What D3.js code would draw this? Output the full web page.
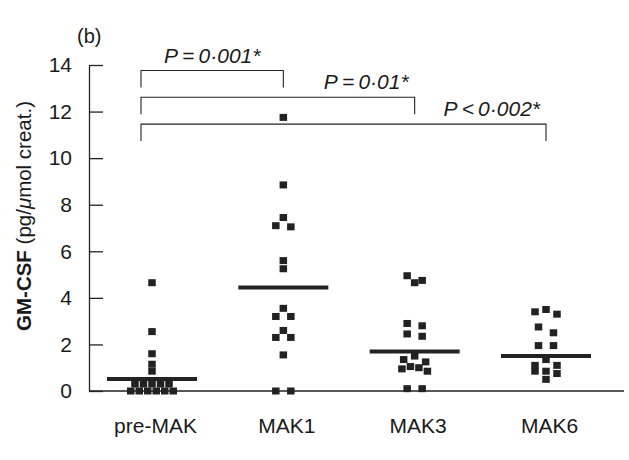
<!DOCTYPE html>
<html>
<head>
<meta charset="utf-8">
<script src="https://cdn.jsdelivr.net/npm/d3@7/dist/d3.min.js"></script>
<style>
  body { margin: 0; background: #fff; }
  text { font-family: "Liberation Sans", Arial, Helvetica, sans-serif; fill: #1a1a1a; }
</style>
</head>
<body>
<div id="chart"></div>
<script>
// values, GM-CSF in pg/umol creat.
const groups = ["pre-MAK", "MAK1", "MAK3", "MAK6"]
const preMAK = [4.65, 2.55, 1.6, 1.15, 0.85, 0.3, 0.3, 0.3, 0.3, 0.3, 0, 0, 0, 0, 0, 0]
const mak1 = [11.75, 8.85, 7.45, 7.1, 7.05, 5.6, 5.25, 3.55, 3.2, 3.2, 2.6, 2.3, 2.3, 1.55, 0, 0]
const mak3 = [4.95, 4.75, 4.65, 2.9, 2.8, 2.45, 2.35, 1.5, 1.35, 1.25, 1.05, 1.0, 0.95, 0.85, 0.1, 0.1]
const mak6 = [3.5, 3.4, 3.3, 2.75, 2.5, 1.95, 1.95, 1.35, 1.1, 1.1, 0.85, 0.85, 0.75, 0.5]
const means = [0.52, 4.45, 1.7, 1.5]
const yTicks = [0, 2, 4, 6, 8, 10, 12, 14]
const comparisons = [["pre-MAK", "MAK1"], ["pre-MAK", "MAK3"], ["pre-MAK", "MAK6"]]
const pLabels = ["P\u2009=\u20090·001*", "P\u2009=\u20090·01*", "P\u2009<\u20090·002*"]

const seriesValues = [preMAK, mak1, mak3, mak6]

// 1. dimensions
let dimensions = {
  width: 629,
  height: 460,
  margin: { top: 65, right: 5, bottom: 69, left: 89 },
}
dimensions.boundedWidth = dimensions.width - dimensions.margin.left - dimensions.margin.right
dimensions.boundedHeight = dimensions.height - dimensions.margin.top - dimensions.margin.bottom

// 2. canvas
const svg = d3.select("#chart")
  .append("svg")
    .attr("width", dimensions.width)
    .attr("height", dimensions.height)

const bounds = svg.append("g")
    .attr("transform", `translate(${dimensions.margin.left}, ${dimensions.margin.top})`)

// 3. scales
const yScale = d3.scaleLinear()
  .domain([0, 14])
  .range([dimensions.boundedHeight, 0])

const xScale = d3.scalePoint()
  .domain(groups)
  .range([63, dimensions.boundedWidth - 78])

// dot-plot layout: values within ~one square of each other share a row
const squareW = 7.5
const squareH = 7
const layoutGroup = (values, group) => {
  const sorted = values.slice().sort((a, b) => b - a)
  const rows = []
  sorted.forEach(v => {
    const row = rows[rows.length - 1]
    if (row && yScale(v) - yScale(row[0]) < 6.5) row.push(v)
    else rows.push([v])
  })
  const points = []
  rows.forEach(row => {
    const n = row.length
    const gap = n === 2 ? 15 : n === 3 ? 11 : 8.5
    const slots = d3.range(n).map(k => k - (n - 1) / 2)
      .sort((a, b) => Math.abs(a) - Math.abs(b) || a - b)
    row.forEach((v, i) => points.push({ group, value: v, dx: slots[i] * gap }))
  })
  return points
}
const points = groups.flatMap((g, i) => layoutGroup(seriesValues[i], g))

// 4. data
bounds.append("g")
  .selectAll("rect")
  .data(points)
  .join("rect")
    .attr("x", d => xScale(d.group) + d.dx - squareW / 2)
    .attr("y", d => yScale(d.value) - squareH / 2)
    .attr("width", squareW)
    .attr("height", squareH)
    .attr("fill", "#222")

const meanWidth = 90
bounds.append("g")
  .selectAll("line")
  .data(groups)
  .join("line")
    .attr("x1", d => xScale(d) - meanWidth / 2)
    .attr("x2", d => xScale(d) + meanWidth / 2)
    .attr("y1", (d, i) => yScale(means[i]))
    .attr("y2", (d, i) => yScale(means[i]))
    .attr("stroke", "#222")
    .attr("stroke-width", 4)

// 5. peripherals
const yAxisGenerator = d3.axisLeft(yScale)
    .tickValues(yTicks)
    .tickSizeInner(-14)
    .tickSizeOuter(0)
    .tickPadding(17)

const yAxis = bounds.append("g")
    .call(yAxisGenerator)
yAxis.selectAll("path, line").attr("stroke", "#222").attr("stroke-width", 1.3)
yAxis.selectAll("text")
    .attr("font-size", 21)
    .attr("font-family", null)

bounds.append("line")
    .attr("x1", 0)
    .attr("x2", dimensions.boundedWidth)
    .attr("y1", dimensions.boundedHeight)
    .attr("y2", dimensions.boundedHeight)
    .attr("stroke", "#222")
    .attr("stroke-width", 1.3)

const xAxis = bounds.append("g")
    .attr("transform", `translate(0, ${dimensions.boundedHeight})`)
    .call(d3.axisBottom(xScale).tickSize(0).tickPadding(27))
xAxis.select(".domain").remove()
xAxis.selectAll("text")
    .attr("dx", 3)
    .attr("font-size", 21)
    .attr("font-family", null)

const yLabel = svg.append("text")
    .attr("transform", `translate(31, 216) rotate(-90)`)
    .attr("text-anchor", "middle")
    .attr("font-size", 20.5)
yLabel.append("tspan").attr("font-weight", "bold").text("GM-CSF")
yLabel.append("tspan").text(" (pg/")
yLabel.append("tspan").attr("font-style", "italic").text("μ")
yLabel.append("tspan").text("mol creat.)")

svg.append("text")
    .attr("x", 77)
    .attr("y", 43)
    .attr("font-size", 20)
    .text("(b)")

// significance brackets
const legLength = 17
const brackets = bounds.append("g")
  .selectAll("g")
  .data(comparisons)
  .join("g")

brackets.append("path")
    .attr("d", (d, i) => {
      const x1 = xScale(d[0]) - 11
      const x2 = xScale(d[1])
      const top = 5.5 + i * 26.8
      return `M${x1},${top + legLength}V${top}H${x2}V${top + legLength}`
    })
    .attr("fill", "none")
    .attr("stroke", "#222")
    .attr("stroke-width", 1.1)

brackets.append("text")
    .attr("x", (d, i) => i === 0
      ? (xScale(d[0]) - 11 + xScale(d[1])) / 2
      : xScale(d[1]) - 6)
    .attr("y", (d, i) => 5.5 + i * 26.8 - 8)
    .attr("text-anchor", (d, i) => i === 0 ? "middle" : "end")
    .attr("font-size", 21)
    .attr("font-style", "italic")
    .text((d, i) => pLabels[i])
</script>
</body>
</html>
